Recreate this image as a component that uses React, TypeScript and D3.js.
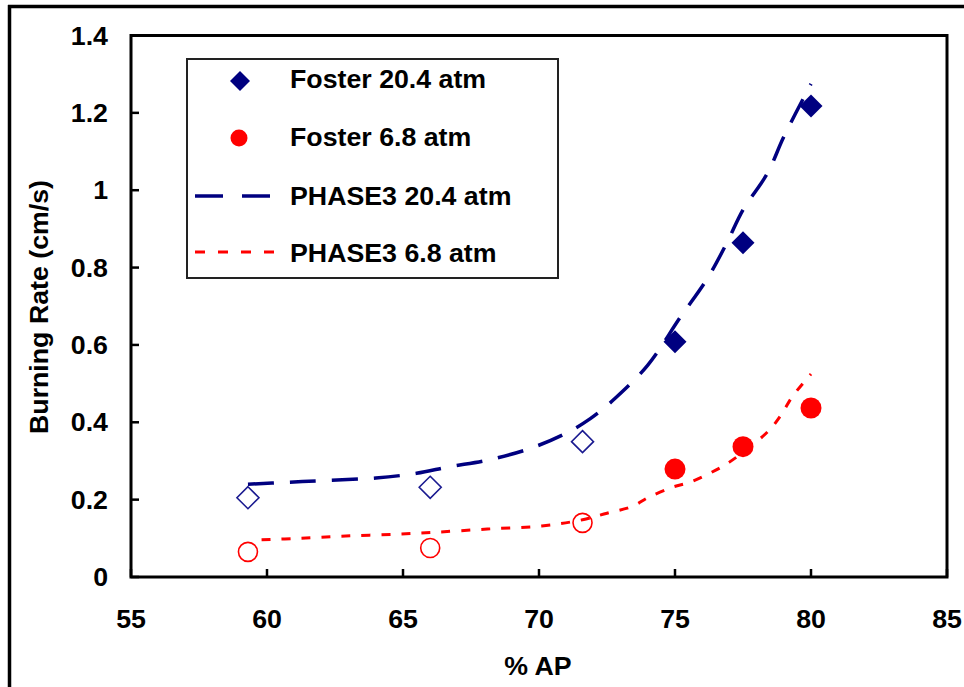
import React from "react";
import * as d3 from "d3";

// ---- data ----
const apValues = [59.3, 66, 71.6, 75, 77.5, 80];
const foster204 = [0.205, 0.232, 0.35, 0.608, 0.864, 1.218];
const foster68 = [0.065, 0.075, 0.14, 0.279, 0.337, 0.437];
const hollowCount = 3; // first three measurements drawn hollow

const phase204X = [59.3, 60.8, 62.3, 64.0, 65.5, 66.7, 68.1, 69.7, 71.0, 71.9, 72.8, 74.0, 75.2, 76.2, 76.9, 77.5, 78.4, 79.0, 80.0];
const phase204Y = [0.24, 0.245, 0.25, 0.256, 0.268, 0.285, 0.302, 0.333, 0.372, 0.41, 0.462, 0.548, 0.672, 0.773, 0.863, 0.949, 1.044, 1.138, 1.275];

const phase68X = [59.8, 61.2, 62.9, 64.9, 66.25, 68.1, 70.1, 71.6, 72.5, 73.45, 74.0, 74.9, 75.55, 76.3, 77.0, 78.4, 78.9, 79.3, 80.0];
const phase68Y = [0.096, 0.1, 0.106, 0.111, 0.116, 0.124, 0.132, 0.148, 0.165, 0.183, 0.205, 0.232, 0.245, 0.269, 0.297, 0.375, 0.419, 0.465, 0.525];

const xTicks = [55, 60, 65, 70, 75, 80, 85];
const yTicks = [0, 0.2, 0.4, 0.6, 0.8, 1, 1.2, 1.4];
const yTickLabels = ["0", "0.2", "0.4", "0.6", "0.8", "1", "1.2", "1.4"];

const legendLabels = ["Foster 20.4 atm", "Foster 6.8 atm", "PHASE3 20.4 atm", "PHASE3 6.8 atm"];

const NAVY = "#000080";
const RED = "#ff0000";
const FONT = "'Liberation Sans', Arial, sans-serif";

function T({ x, y, anchor = "start", rotate = 0, children }: any) {
  return (
    <text
      transform={`translate(${x},${y}) rotate(${rotate}) scale(1.07,1)`}
      textAnchor={anchor}
      fontFamily={FONT}
      fontWeight="bold"
      fontSize={25}
      fill="#000"
    >
      {children}
    </text>
  );
}

function diamondPath(cx: number, cy: number, r: number) {
  return `M${cx},${cy - r}L${cx + r},${cy}L${cx},${cy + r}L${cx - r},${cy}Z`;
}

export default function App() {
  const W = 964, H = 687;
  const left = 131, right = 947, top = 35.5, bottom = 577;
  const x = d3.scaleLinear().domain([55, 85]).range([left, right]);
  const y = d3.scaleLinear().domain([0, 1.4]).range([bottom, top]);

  const line = d3
    .line<[number, number]>()
    .x((d) => x(d[0]))
    .y((d) => y(d[1]))
    .curve(d3.curveCatmullRom.alpha(0.5));

  const p204 = line(phase204X.map((v, i) => [v, phase204Y[i]] as [number, number])) || "";
  const p68 = line(phase68X.map((v, i) => [v, phase68Y[i]] as [number, number])) || "";

  const legX = 187, legY = 59, legW = 371, legH = 219;
  const rowY = [81, 138, 196, 252];
  const rowBase = [88, 146, 205, 262];

  return (
    <svg
      width={W}
      height={H}
      style={{ position: "absolute", left: 0, top: 0, background: "#fff" }}
    >
      <rect x={0} y={0} width={W} height={H} fill="#fff" />
      {/* outer frame (top & left only visible) */}
      <line x1={8} y1={6.5} x2={W} y2={6.5} stroke="#000" strokeWidth={3.5} />
      <line x1={9.5} y1={5} x2={9.5} y2={H} stroke="#000" strokeWidth={3.5} />

      {/* series lines */}
      <path d={p204} fill="none" stroke={NAVY} strokeWidth={3.5} strokeDasharray="26,16" />
      <path d={p68} fill="none" stroke={RED} strokeWidth={3} strokeDasharray="9,11" />

      {/* markers */}
      {apValues.map((v, i) =>
        i < hollowCount ? (
          <path key={"d" + i} d={diamondPath(x(v), y(foster204[i]), 11)} fill="none" stroke="#1a1a90" strokeWidth={1.6} />
        ) : (
          <path key={"d" + i} d={diamondPath(x(v), y(foster204[i]), 11.5)} fill={NAVY} />
        )
      )}
      {apValues.map((v, i) =>
        i < hollowCount ? (
          <circle key={"c" + i} cx={x(v)} cy={y(foster68[i])} r={9.5} fill="none" stroke={RED} strokeWidth={1.6} />
        ) : (
          <circle key={"c" + i} cx={x(v)} cy={y(foster68[i])} r={10.5} fill={RED} />
        )
      )}

      {/* plot frame */}
      <rect x={left} y={top} width={right - left} height={bottom - top} fill="none" stroke="#000" strokeWidth={3} />

      {/* ticks */}
      {xTicks.map((t) => (
        <line key={"xt" + t} x1={x(t)} x2={x(t)} y1={bottom} y2={bottom - 8} stroke="#000" strokeWidth={2.5} />
      ))}
      {yTicks.map((t) => (
        <line key={"yt" + t} x1={left} x2={left + 8} y1={y(t)} y2={y(t)} stroke="#000" strokeWidth={2.5} />
      ))}

      {/* tick labels */}
      {xTicks.map((t) => (
        <T key={"xl" + t} x={x(t)} y={628} anchor="middle">
          {String(t)}
        </T>
      ))}
      {yTicks.map((t, i) => (
        <T key={"yl" + t} x={108} y={y(t) + 9} anchor="end">
          {yTickLabels[i]}
        </T>
      ))}

      {/* axis titles */}
      <T x={538} y={675} anchor="middle">% AP</T>
      <T x={48} y={307} anchor="middle" rotate={-90}>Burning Rate (cm/s)</T>

      {/* legend */}
      <rect x={legX} y={legY} width={legW} height={legH} fill="#fff" stroke="#222" strokeWidth={2} />
      <path d={diamondPath(240, rowY[0], 10)} fill={NAVY} />
      <circle cx={239} cy={rowY[1]} r={8.5} fill={RED} />
      <line x1={195} x2={270} y1={rowY[2]} y2={rowY[2]} stroke={NAVY} strokeWidth={3.5} strokeDasharray="28,19" />
      <line x1={195} x2={280} y1={rowY[3]} y2={rowY[3]} stroke={RED} strokeWidth={3} strokeDasharray="10,13" />
      {legendLabels.map((l, i) => (
        <T key={l} x={290} y={rowBase[i]}>
          {l}
        </T>
      ))}
    </svg>
  );
}
